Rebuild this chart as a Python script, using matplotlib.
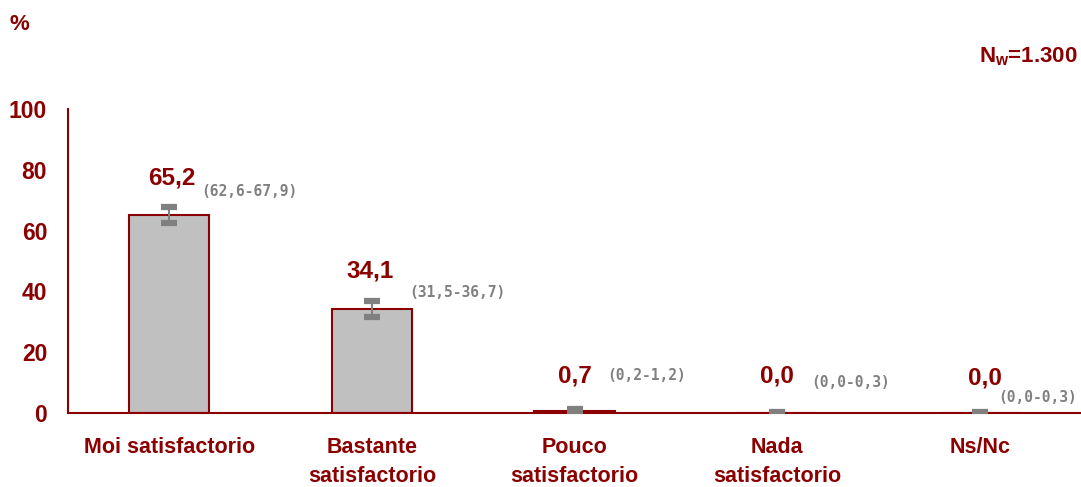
import numpy as np
import matplotlib
matplotlib.use("Agg")
import matplotlib.pyplot as plt

plt.rcParams['font.family'] = ['Liberation Sans', 'DejaVu Sans']
plt.rcParams['mathtext.fontset'] = 'custom'
plt.rcParams['mathtext.rm'] = 'Liberation Sans:bold'
plt.rcParams['mathtext.bf'] = 'Liberation Sans:bold'

categories = ['Moi satisfactorio', 'Bastante\nsatisfactorio', 'Pouco\nsatisfactorio',
              'Nada\nsatisfactorio', 'Ns/Nc']
values = [65.2, 34.1, 0.7, 0.0, 0.0]
ci_low = [62.6, 31.5, 0.2, 0.0, 0.0]
ci_high = [67.9, 36.7, 1.2, 0.3, 0.3]
value_labels = ['65,2', '34,1', '0,7', '0,0', '0,0']
ci_labels = ['(62,6-67,9)', '(31,5-36,7)', '(0,2-1,2)', '(0,0-0,3)', '(0,0-0,3)']
yticks = [0, 20, 40, 60, 80, 100]

# label offsets in pixels from the top of the interval
val_off = [(3, 29), (-2, 30), (0, 33), (0, 36), (5, 34)]
ci_off = [(32, 15), (37, 9), (33, 34), (34, 30), (19, 15)]

red = '#8B0000'
grey = '#808080'

fig = plt.figure(figsize=(10.81, 4.87), dpi=100)
ax = fig.add_axes([68/1081, 74/487, 1013/1081, 304/487])

x = np.arange(len(categories))
ax.bar(x, values, width=0.395, color='#C0C0C0', edgecolor=red, linewidth=1.5, zorder=2)

err = [np.array(values) - np.array(ci_low), np.array(ci_high) - np.array(values)]
ax.errorbar(x, values, yerr=err, fmt='none', ecolor=grey, elinewidth=1.5,
            capsize=5.8, capthick=4.5, zorder=3)

for i in range(len(x)):
    ax.annotate(value_labels[i], xy=(x[i], ci_high[i]), xytext=val_off[i],
                textcoords='offset pixels', ha='center', va='center',
                fontsize=17.5, fontweight='bold', color=red)
    ax.annotate(ci_labels[i], xy=(x[i], ci_high[i]), xytext=ci_off[i],
                textcoords='offset pixels', ha='left', va='center',
                fontsize=10.5, fontweight='bold', color=grey,
                family='DejaVu Sans Mono')

ax.set_xlim(-0.5, 4.5)
ax.set_ylim(0, 100)
ax.set_yticks(yticks)
ax.set_xticks(x)
ax.set_xticklabels(categories, fontsize=15.5, fontweight='bold', color=red, linespacing=1.55)
for lab in ax.get_yticklabels():
    lab.set_fontsize(16.5)
    lab.set_fontweight('bold')
    lab.set_color(red)
ax.tick_params(axis='y', length=0, pad=15)
ax.tick_params(axis='x', length=0, pad=17)

for s in ['top', 'right']:
    ax.spines[s].set_visible(False)
ax.spines['left'].set_color(red)
ax.spines['bottom'].set_color(red)
ax.spines['left'].set_linewidth(1.5)
ax.spines['bottom'].set_linewidth(1.5)

fig.text(10/1081, 1 - 25/487, '%', fontsize=16, fontweight='bold', color=red, va='center')
fig.text(1078/1081, 1 - 57/487, r'N$_\mathrm{w}$=1.300', fontsize=16, fontweight='bold',
         color=red, ha='right', va='center')

fig.savefig('out.png', dpi=100)
